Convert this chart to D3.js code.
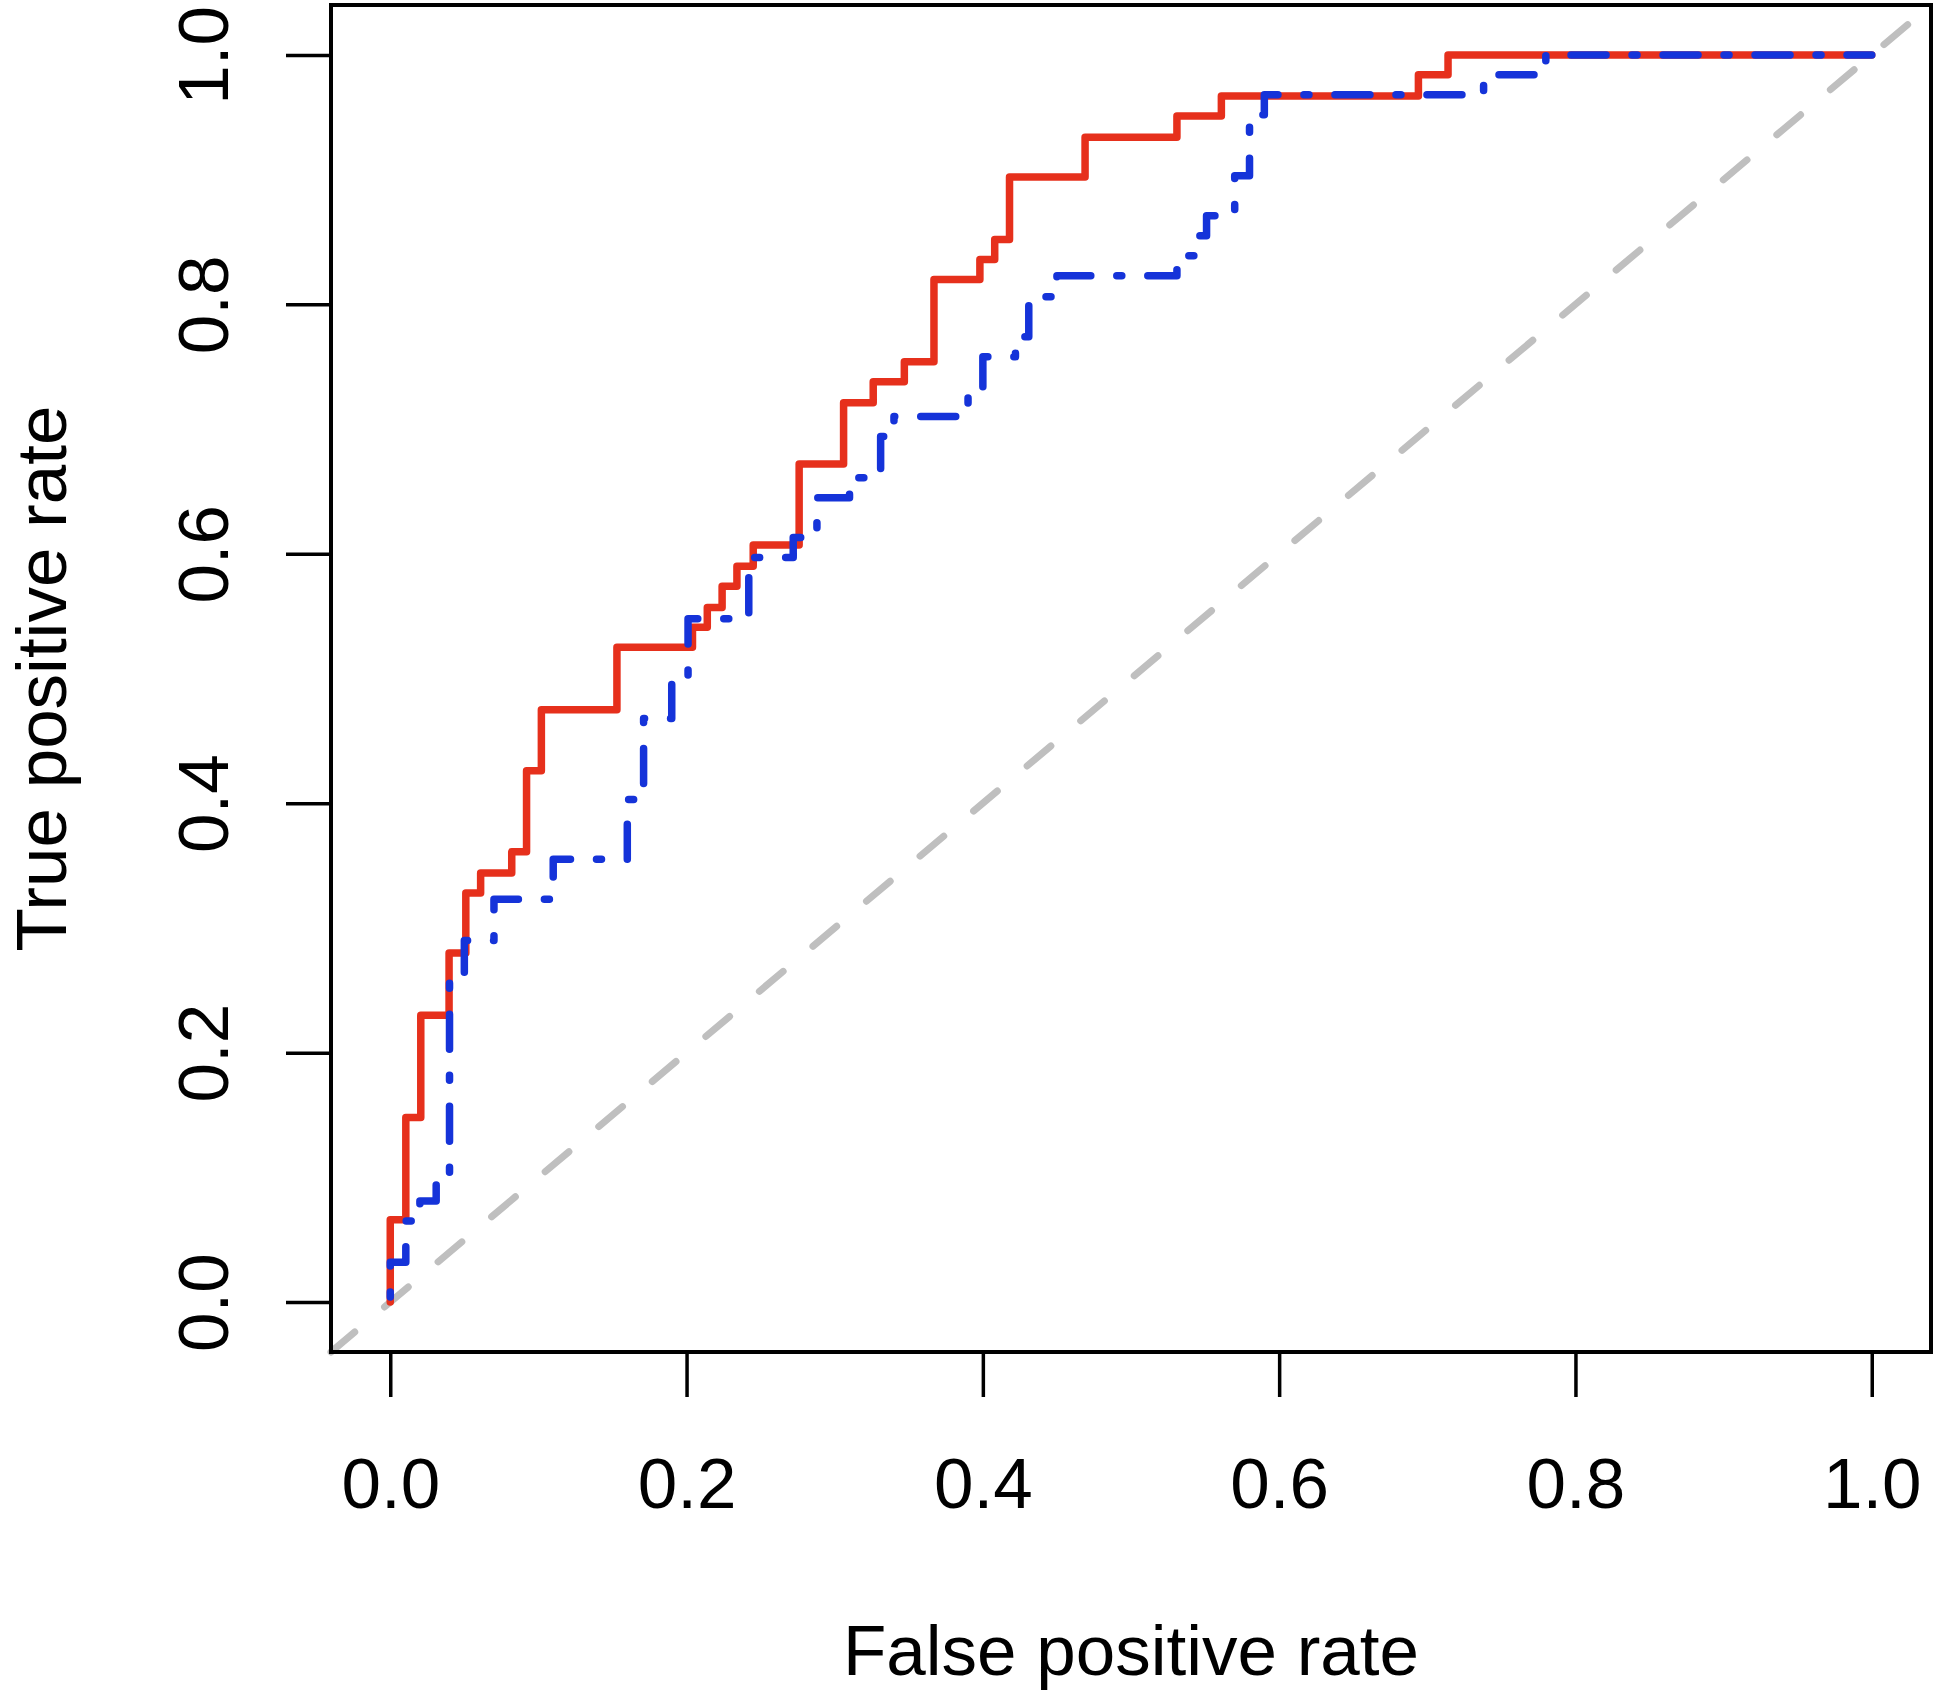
<!DOCTYPE html>
<html>
<head>
<meta charset="utf-8">
<script src="https://cdn.jsdelivr.net/npm/d3@7"></script>
<style>
  html, body { margin: 0; padding: 0; background: #ffffff; }
  svg { display: block; }
  text { font-family: "Liberation Sans", Arial, Helvetica, sans-serif; fill: #000; }
</style>
</head>
<body>
<script>
// ---- data ----
const fprRed = [0,0,0.0105,0.0105,0.0206,0.0206,0.0397,0.0397,0.051,0.051,0.061,0.061,0.082,0.082,0.092,0.092,0.102,0.102,0.153,0.153,0.204,0.204,0.214,0.214,0.224,0.224,0.234,0.234,0.245,0.245,0.276,0.276,0.306,0.306,0.326,0.326,0.347,0.347,0.367,0.367,0.398,0.398,0.408,0.408,0.418,0.418,0.469,0.469,0.531,0.531,0.561,0.561,0.694,0.694,0.714,0.714,1];
const tprRed = [0,0.066,0.066,0.148,0.148,0.230,0.230,0.280,0.280,0.328,0.328,0.344,0.344,0.361,0.361,0.426,0.426,0.475,0.475,0.525,0.525,0.541,0.541,0.557,0.557,0.574,0.574,0.590,0.590,0.607,0.607,0.672,0.672,0.721,0.721,0.738,0.738,0.754,0.754,0.820,0.820,0.836,0.836,0.852,0.852,0.902,0.902,0.934,0.934,0.951,0.951,0.967,0.967,0.984,0.984,1,1];

const fprBlue = [0,0,0.0105,0.0105,0.020,0.020,0.031,0.031,0.040,0.040,0.050,0.050,0.070,0.070,0.110,0.110,0.160,0.160,0.171,0.171,0.190,0.190,0.201,0.201,0.242,0.242,0.272,0.272,0.288,0.288,0.310,0.310,0.331,0.331,0.340,0.340,0.390,0.390,0.400,0.400,0.422,0.422,0.431,0.431,0.450,0.450,0.531,0.531,0.545,0.545,0.551,0.551,0.570,0.570,0.580,0.580,0.590,0.590,0.738,0.738,0.780,0.780,1];
const tprBlue = [0,0.032,0.032,0.065,0.065,0.081,0.081,0.097,0.097,0.258,0.258,0.290,0.290,0.323,0.323,0.355,0.355,0.403,0.403,0.468,0.468,0.500,0.500,0.548,0.548,0.597,0.597,0.613,0.613,0.645,0.645,0.661,0.661,0.694,0.694,0.710,0.710,0.726,0.726,0.758,0.758,0.774,0.774,0.806,0.806,0.823,0.823,0.839,0.839,0.855,0.855,0.871,0.871,0.903,0.903,0.952,0.952,0.968,0.968,0.984,0.984,1,1];

const tickValues = [0, 0.2, 0.4, 0.6, 0.8, 1.0];
const tickLabels = ["0.0", "0.2", "0.4", "0.6", "0.8", "1.0"];
const xTitle = "False positive rate";
const yTitle = "True positive rate";

// ---- layout ----
const W = 1950, H = 1704;
const box = { left: 331, right: 1931, top: 5, bottom: 1352 };
const dom = [-0.04, 1.04];

const svg = d3.select("body").append("svg").attr("width", W).attr("height", H);
svg.append("rect").attr("width", W).attr("height", H).attr("fill", "#fff");

const x = d3.scaleLinear().domain(dom).range([box.left, box.right]);
const y = d3.scaleLinear().domain(dom).range([box.bottom, box.top]);

const plot = svg.append("g");

// diagonal reference line (corner to corner of plot region)
plot.append("line")
  .attr("x1", x(dom[0])).attr("y1", y(dom[0]))
  .attr("x2", x(dom[1])).attr("y2", y(dom[1]))
  .attr("stroke", "#bfbfbf").attr("stroke-width", 7)
  .attr("stroke-linecap", "round")
  .attr("stroke-dasharray", "31,39");

const line = d3.line().x(d => x(d[0])).y(d => y(d[1]));

plot.append("path")
  .datum(fprRed.map((v, i) => [v, tprRed[i]]))
  .attr("d", line)
  .attr("fill", "none").attr("stroke", "#e6301c").attr("stroke-width", 7.5)
  .attr("stroke-linejoin", "round").attr("stroke-linecap", "round");

plot.append("path")
  .datum(fprBlue.map((v, i) => [v, tprBlue[i]]))
  .attr("d", line)
  .attr("fill", "none").attr("stroke", "#1533d9").attr("stroke-width", 7.5)
  .attr("stroke-linejoin", "round").attr("stroke-linecap", "round")
  .attr("stroke-dasharray", "5,26,35,26").attr("stroke-dashoffset", -5);

// box
svg.append("rect")
  .attr("x", box.left).attr("y", box.top)
  .attr("width", box.right - box.left).attr("height", box.bottom - box.top)
  .attr("fill", "none").attr("stroke", "#000").attr("stroke-width", 4);

// axes
const fmt = (d) => tickLabels[tickValues.indexOf(d)];
const xAxis = svg.append("g").attr("transform", `translate(0,${box.bottom})`)
  .call(d3.axisBottom(x).tickValues(tickValues).tickFormat(fmt).tickSize(45).tickSizeOuter(0));
const yAxis = svg.append("g").attr("transform", `translate(${box.left},0)`)
  .call(d3.axisLeft(y).tickValues(tickValues).tickFormat(fmt).tickSize(45).tickSizeOuter(0));

[xAxis, yAxis].forEach(g => {
  g.select(".domain").remove();
  g.selectAll(".tick line").attr("stroke", "#000").attr("stroke-width", 3.5);
  g.selectAll(".tick text")
    .style("font-family", '"Liberation Sans", Arial, Helvetica, sans-serif')
    .style("font-size", "71px").attr("fill", "#000");
});
xAxis.selectAll(".tick text").attr("y", 156).attr("dy", 0).attr("text-anchor", "middle");
yAxis.selectAll(".tick text")
  .attr("x", 0).attr("y", -103).attr("dy", 0)
  .attr("text-anchor", "middle")
  .attr("transform", "rotate(-90)");

// titles
svg.append("text")
  .attr("x", (x(0) + x(1)) / 2).attr("y", 1675)
  .attr("text-anchor", "middle").style("font-size", "71px")
  .text(xTitle);
svg.append("text")
  .attr("transform", `translate(66,${(y(0) + y(1)) / 2}) rotate(-90)`)
  .attr("text-anchor", "middle").style("font-size", "71px")
  .text(yTitle);
</script>
</body>
</html>
